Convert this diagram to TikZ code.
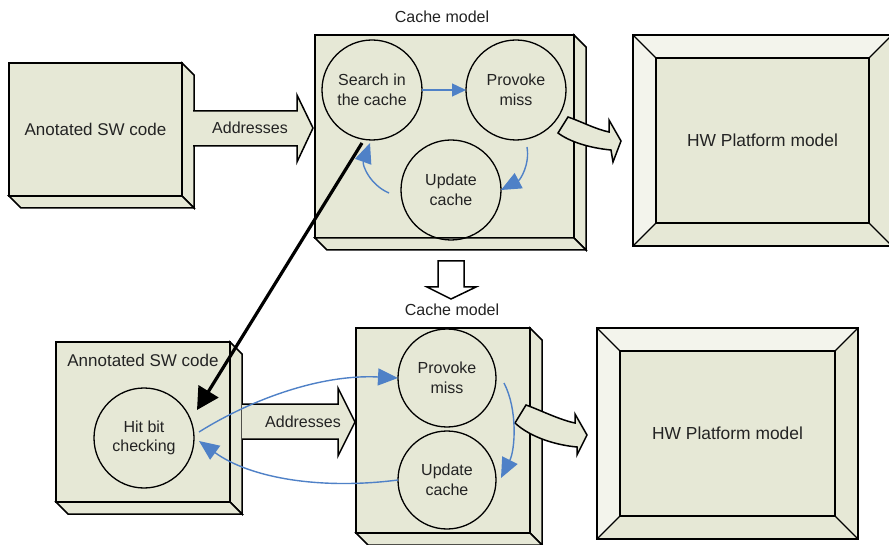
\documentclass[tikz,border=0pt]{standalone}
\usepackage{fontspec}
\setmainfont{Liberation Sans}
\usetikzlibrary{arrows.meta,calc}
\definecolor{boxfill}{RGB}{230,232,214}
\definecolor{bevlight}{RGB}{243,244,236}
\definecolor{txt}{RGB}{35,35,35}
\definecolor{arrblue}{RGB}{79,129,199}
\tikzset{
  face/.style={fill=boxfill,draw=black,line width=1.5pt,line join=miter},
  frontbox/.style={fill=boxfill,draw=black,line width=1.5pt,inner sep=0pt,outer sep=0pt,text=txt,font=\fontsize{17}{20}\selectfont},
  hwbox/.style={frontbox,font=\fontsize{17.4}{20}\selectfont},
  stage/.style={circle,draw=black,line width=1.3pt,minimum size=100pt,inner sep=0pt,outer sep=0pt,align=center,text=txt,font=\fontsize{16}{19.5}\selectfont},
  lbl/.style={text=txt,font=\fontsize{16}{19}\selectfont,inner sep=0pt},
  lblbig/.style={text=txt,font=\fontsize{17}{20}\selectfont,inner sep=0pt},
  blockarrow/.style={fill=boxfill,draw=black,line width=1.5pt,line join=miter},
  bluearrow/.style={draw=arrblue,line width=1.4pt,-{Triangle[length=20pt,width=17pt]}},
  bluestraight/.style={draw=arrblue,line width=1.4pt,-{Triangle[length=14pt,width=13pt]}},
  blackarrow/.style={draw=black,line width=3.2pt,-{Triangle[length=22pt,width=23pt]}},
}
\newcommand\boxsides[1]{%
  \filldraw[face] (#1.north east) -- ++(12,12) -- ($(#1.south east)+(12,12)$) -- (#1.south east) -- cycle;
  \filldraw[face] (#1.south west) -- ++(12,12) -- ($(#1.south east)+(12,12)$) -- (#1.south east) -- cycle;}
\newcommand\hwframe[1]{%
  \coordinate (#1o1) at ($(#1.north west)+(-23,-23)$);
  \coordinate (#1o2) at ($(#1.north east)+(23,-23)$);
  \coordinate (#1o3) at ($(#1.south east)+(23,23)$);
  \coordinate (#1o4) at ($(#1.south west)+(-23,23)$);
  \filldraw[face] (#1o1) rectangle (#1o3);
  \fill[bevlight] (#1o1) -- (#1o2) -- (#1.north east) -- (#1.north west) -- cycle;
  \fill[bevlight] (#1o1) -- (#1.north west) -- (#1.south west) -- (#1o4) -- cycle;
  \draw[line width=1.5pt] (#1o1) rectangle (#1o3);
  \draw[line width=1.1pt] (#1o1) -- (#1.north west) (#1o2) -- (#1.north east) (#1o3) -- (#1.south east) (#1o4) -- (#1.south west);}
\begin{document}
\begin{tikzpicture}[x=1pt,y=-1pt]
\useasboundingbox (0,0) rectangle (889,545);
\fill[white] (0,0) rectangle (889,545);

% ---------- top row ----------
\node[frontbox,minimum width=173pt,minimum height=133pt] (sw1) at (95.5,129.5) {};
\boxsides{sw1}
\node[frontbox,minimum width=173pt,minimum height=133pt] (sw1f) at (95.5,129.5) {Anotated SW code};

\node[frontbox,minimum width=259pt,minimum height=203pt] (c1) at (444.5,136.5) {};
\boxsides{c1}
\node[lbl] (c1lbl) at (442,17) {Cache model};

\node[stage] (s1) at (372,90) {Search in\\the cache};
\node[stage] (p1) at (516,90) {Provoke\\miss};
\node[stage] (u1) at (451,190) {Update\\cache};

\node[hwbox,minimum width=213pt,minimum height=165pt] (hw1) at (762.5,140.5) {};
\hwframe{hw1}
\node[hwbox,minimum width=213pt,minimum height=165pt] (hw1f) at (762.5,140.5) {HW Platform model};

% Addresses block arrow (top)
\filldraw[blockarrow] ($(sw1.north east)+(11,48)$) -- (297,111) -- (297,95) -- (313,128) -- (297,162) -- (297,146) -- ($(sw1.north east)+(11,83)$);
\node[lbl] (a1) at (250,128) {Addresses};

% curved block arrow cache -> HW (top)
\filldraw[blockarrow] (568,117) .. controls (580,121) and (595,129) .. (609,132) -- (609,120) -- (621,141) -- (613,162) -- (611,150) .. controls (590,148) and (570,142) .. (558,133) -- cycle;

% blue cycle arrows (top)
\draw[bluestraight] (s1) -- (p1);
\draw[bluearrow] ($(p1)+(11,57)$) .. controls ($(p1)+(14,75)$) and ($(u1)+(69,-10)$) .. (u1.east);
\draw[bluearrow] ($(u1)+(-62,3)$) .. controls ($(u1)+(-81,-5)$) and ($(s1)+(-10,75)$) .. ($(s1)+(-2,53)$);

% down arrow
\filldraw[fill=white,draw=black,line width=1.5pt,line join=miter] (438,261) -- (464,261) -- (464,287) -- (476,287) -- (451,299) -- (427,287) -- (438,287) -- cycle;

% ---------- bottom row ----------
\node[frontbox,minimum width=174pt,minimum height=160pt] (sw2) at (143,422) {};
\boxsides{sw2}
\node[lblbig] (sw2lbl) at (143,360) {Annotated SW code};
\node[stage] (h1) at (144,438) {Hit bit\\checking};

\node[frontbox,minimum width=174pt,minimum height=205pt] (c2) at (443,430.5) {};
\boxsides{c2}
\node[lbl] (c2lbl) at (452,310) {Cache model};
\node[stage,minimum size=98pt] (p2) at (447,378) {Provoke\\miss};
\node[stage,minimum size=98pt] (u2) at (447,480) {Update\\cache};

\node[hwbox,minimum width=215pt,minimum height=165pt] (hw2) at (727.5,433.5) {};
\hwframe{hw2}
\node[hwbox,minimum width=215pt,minimum height=165pt] (hw2f) at (727.5,433.5) {HW Platform model};

% Addresses block arrow (bottom)
\filldraw[blockarrow] ($(sw2.north east)+(12,62)$) -- (338,404) -- (338,388) -- (355,422) -- (338,456) -- (338,439) -- ($(sw2.north east)+(12,97)$);
\node[lbl] (a2) at (303,422) {Addresses};

% curved block arrow cache -> HW (bottom)
\filldraw[blockarrow] (526,405) .. controls (540,410) and (560,420) .. (575,423) -- (575,414) -- (587,435) -- (577,455) -- (577,447) .. controls (555,445) and (530,437) .. (515,423) -- cycle;

% blue arrows (bottom)
\draw[bluearrow] ($(h1)+(55,-6)$) .. controls (250,400) and (320,374) .. (p2.west);
\draw[bluearrow] (u2.west) .. controls (320,490) and (250,478) .. ($(h1)+(55,3)$);
\draw[bluearrow] ($(p2)+(57,5)$) .. controls ($(p2)+(71,32)$) and ($(u2)+(68,-30)$) .. ($(u2)+(54,-2)$);

% black arrow
\draw[blackarrow] ($(s1)+(-10,53)$) -- ($(h1)+(53,-28)$);
\end{tikzpicture}
\end{document}
